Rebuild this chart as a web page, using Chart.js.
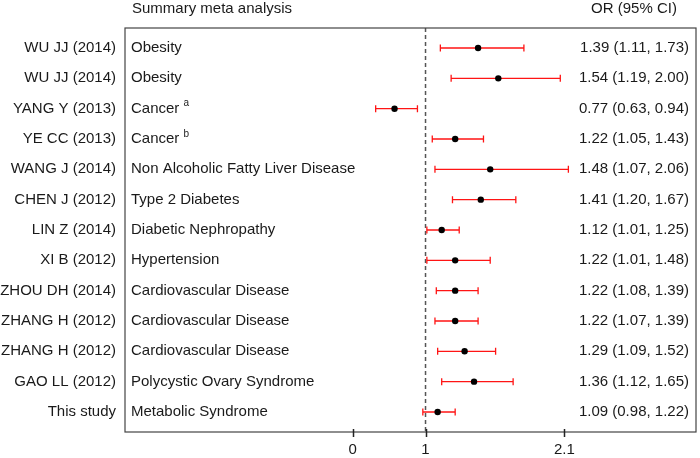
<!DOCTYPE html>
<html>
<head>
<meta charset="utf-8">
<script src="https://cdn.jsdelivr.net/npm/chart.js@4.4.1/dist/chart.umd.min.js"></script>
<style>
  body { margin: 0; background: #fff; }
</style>
</head>
<body>
<canvas id="forestChart" width="700" height="458"></canvas>
<script>
let studies = ['WU JJ (2014)', 'WU JJ (2014)', 'YANG Y (2013)', 'YE CC (2013)', 'WANG J (2014)', 'CHEN J (2012)',
  'LIN Z (2014)', 'XI B (2012)', 'ZHOU DH (2014)', 'ZHANG H (2012)', 'ZHANG H (2012)', 'GAO LL (2012)', 'This study'];
let diseases = ['Obesity', 'Obesity', 'Cancer', 'Cancer', 'Non Alcoholic Fatty Liver Disease', 'Type 2 Diabetes',
  'Diabetic Nephropathy', 'Hypertension', 'Cardiovascular Disease', 'Cardiovascular Disease', 'Cardiovascular Disease',
  'Polycystic Ovary Syndrome', 'Metabolic Syndrome'];
let notes = ['', '', 'a', 'b', '', '', '', '', '', '', '', '', ''];
let oddsRatio = [1.39, 1.54, 0.77, 1.22, 1.48, 1.41, 1.12, 1.22, 1.22, 1.22, 1.29, 1.36, 1.09];
let lower = [1.11, 1.19, 0.63, 1.05, 1.07, 1.20, 1.01, 1.01, 1.08, 1.07, 1.09, 1.12, 0.98];
let upper = [1.73, 2.00, 0.94, 1.43, 2.06, 1.67, 1.25, 1.48, 1.39, 1.39, 1.52, 1.65, 1.22];
let tickValues = [0.46, 1, 2.03];
let tickLabels = ['0', '1', '2.1'];

const FONT = "'Liberation Sans', Arial, sans-serif";
const TEXT = '#1a1a1a';

function fmt(v) {
  return v.toFixed(2);
}

// whiskers, reference line, box and the text columns
const forestPlugin = {
  id: 'forest',
  beforeDatasetsDraw(chart) {
    let ctx = chart.ctx;
    let xs = chart.scales.x;
    let ys = chart.scales.y;
    let area = chart.chartArea;
    ctx.save();
    // dashed line at OR = 1
    ctx.strokeStyle = '#555';
    ctx.lineWidth = 1.5;
    ctx.setLineDash([4, 3]);
    ctx.beginPath();
    ctx.moveTo(xs.getPixelForValue(1), area.top);
    ctx.lineTo(xs.getPixelForValue(1), area.bottom);
    ctx.stroke();
    ctx.setLineDash([]);
    // CI bars
    ctx.strokeStyle = 'rgb(255, 20, 20)';
    ctx.lineWidth = 1.3;
    for (let i = 0; i < oddsRatio.length; i++) {
      let y = ys.getPixelForValue(i);
      let x1 = xs.getPixelForValue(lower[i]);
      let x2 = xs.getPixelForValue(upper[i]);
      ctx.beginPath();
      ctx.moveTo(x1, y);
      ctx.lineTo(x2, y);
      ctx.moveTo(x1, y - 3.5);
      ctx.lineTo(x1, y + 3.5);
      ctx.moveTo(x2, y - 3.5);
      ctx.lineTo(x2, y + 3.5);
      ctx.stroke();
    }
    ctx.restore();
  },
  afterDraw(chart) {
    let ctx = chart.ctx;
    let xs = chart.scales.x;
    let ys = chart.scales.y;
    let area = chart.chartArea;
    ctx.save();
    ctx.strokeStyle = '#444';
    ctx.lineWidth = 1.2;
    ctx.strokeRect(area.left, area.top, area.right - area.left, area.bottom - area.top);

    // x tick marks
    ctx.strokeStyle = '#222';
    ctx.lineWidth = 1.5;
    ctx.beginPath();
    tickValues.forEach(v => {
      let x = Math.round(xs.getPixelForValue(v)) + 0.5;
      ctx.moveTo(x, area.bottom - 3);
      ctx.lineTo(x, area.bottom + 5);
    });
    ctx.stroke();

    ctx.fillStyle = TEXT;
    ctx.textBaseline = 'middle';
    ctx.font = '15px ' + FONT;
    ctx.textAlign = 'left';
    ctx.fillText('Summary meta analysis', area.left + 7, 9);
    ctx.textAlign = 'center';
    ctx.fillText('OR (95% CI)', 634, 9);

    for (let i = 0; i < diseases.length; i++) {
      let y = ys.getPixelForValue(i);
      ctx.font = '15px ' + FONT;
      ctx.textAlign = 'left';
      let x = area.left + 6;
      ctx.fillText(diseases[i], x, y);
      if (notes[i]) {
        let w = ctx.measureText(diseases[i] + ' ').width;
        ctx.font = '10px ' + FONT;
        ctx.fillText(notes[i], x + w, y - 5);
        ctx.font = '15px ' + FONT;
      }
      ctx.textAlign = 'right';
      ctx.fillText(fmt(oddsRatio[i]) + ' (' + fmt(lower[i]) + ', ' + fmt(upper[i]) + ')', 689, y);
    }
    ctx.restore();
  }
};

const config = {
  type: 'scatter',
  data: {
    datasets: [{
      data: oddsRatio.map((v, i) => ({ x: v, y: i })),
      pointStyle: 'circle',
      pointRadius: 3.2,
      backgroundColor: '#000',
      borderColor: '#000',
      borderWidth: 0
    }]
  },
  options: {
    responsive: false,
    animation: false,
    layout: { padding: { top: 28, right: 3, left: 0, bottom: 0 } },
    plugins: {
      legend: { display: false },
      tooltip: { enabled: false }
    },
    scales: {
      x: {
        type: 'linear',
        min: -1.23,
        max: 3.007,
        afterBuildTicks(scale) {
          scale.ticks = tickValues.map(v => ({ value: v }));
        },
        afterFit(scale) {
          scale.height = 26;
        },
        grid: { display: false, drawTicks: true, tickLength: 6 },
        border: { display: false },
        ticks: {
          color: TEXT,
          padding: 3,
          font: { family: FONT, size: 15 },
          callback: (v, idx) => tickLabels[idx]
        }
      },
      y: {
        type: 'linear',
        reverse: true,
        min: -0.66,
        max: 12.66,
        afterBuildTicks(scale) {
          scale.ticks = studies.map((s, i) => ({ value: i }));
        },
        afterFit(scale) {
          scale.width = 125;
        },
        grid: { display: false, drawTicks: false },
        border: { display: false },
        ticks: {
          color: TEXT,
          padding: 9,
          font: { family: FONT, size: 15 },
          callback: (v, idx) => studies[idx]
        }
      }
    }
  },
  plugins: [forestPlugin]
};

let canvasChart = document.getElementById('forestChart');
const myChart = new Chart(canvasChart, config);
</script>
</body>
</html>
